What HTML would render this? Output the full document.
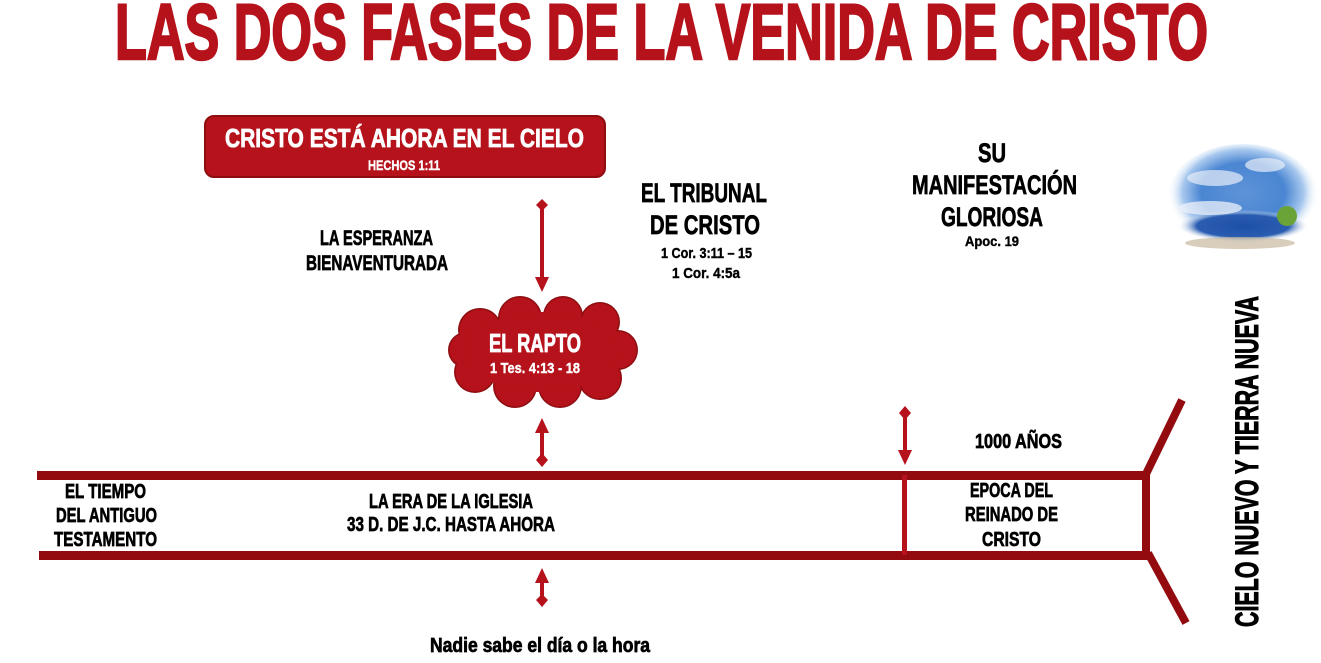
<!DOCTYPE html>
<html><head><meta charset="utf-8"><style>
html,body{margin:0;padding:0;background:#fff;}
svg{display:block;}
text{font-family:"Liberation Sans",sans-serif;font-weight:bold;}
</style></head><body>
<svg width="1321" height="663" viewBox="0 0 1321 663" xmlns="http://www.w3.org/2000/svg">
<defs>
<radialGradient id="sky" cx="50%" cy="45%" r="50%">
<stop offset="0" stop-color="#5f93d8"/>
<stop offset="0.55" stop-color="#4a86d2"/>
<stop offset="0.8" stop-color="#a8c8ee"/>
<stop offset="1" stop-color="#ffffff" stop-opacity="0"/>
</radialGradient>
<radialGradient id="sea" cx="50%" cy="50%" r="50%">
<stop offset="0" stop-color="#1d4fa8"/>
<stop offset="0.7" stop-color="#2a5db0"/>
<stop offset="1" stop-color="#ffffff" stop-opacity="0"/>
</radialGradient>
</defs>
<!-- Title -->
<text x="115" y="59" font-size="79" fill="#b5121b" stroke="#b5121b" stroke-width="2.5" textLength="1093" lengthAdjust="spacingAndGlyphs">LAS DOS FASES DE LA VENIDA DE CRISTO</text>

<!-- Red box -->
<rect x="205" y="116" width="400" height="61" rx="9" fill="#b5121b" stroke="#8e0d10" stroke-width="2"/>
<text x="225" y="147" font-size="26" fill="#fff" stroke="#fff" stroke-width="0.8" textLength="359" lengthAdjust="spacingAndGlyphs">CRISTO ESTÁ AHORA EN EL CIELO</text>
<text x="368" y="170" font-size="14" fill="#fff" stroke="#fff" stroke-width="0.4" textLength="72" lengthAdjust="spacingAndGlyphs">HECHOS 1:11</text>

<!-- arrows -->
<g fill="#b5121b" stroke="none">
<path d="M542 199 L548 205 L542 211 L536 205Z"/>
<rect x="540" y="205" width="4" height="73"/>
<path d="M535 277 L549 277 L542 292Z"/>
<path d="M535 433 L549 433 L542 418Z"/>
<rect x="540" y="432" width="4" height="26"/>
<path d="M542 453 L548 460 L542 467 L536 460Z"/>
<path d="M535 583 L549 583 L542 568Z"/>
<rect x="540" y="582" width="4" height="18"/>
<path d="M542 594 L548 600 L542 607 L536 600Z"/>
<path d="M905 406 L911 413 L905 420 L899 413Z"/>
<rect x="903" y="413" width="4" height="38"/>
<path d="M898 450 L912 450 L905 465Z"/>
</g>

<!-- Cloud -->
<g fill="#8e0d10">
<circle cx="480" cy="330" r="22"/><circle cx="520" cy="318" r="22"/><circle cx="563" cy="316" r="20"/><circle cx="600" cy="322" r="20"/>
<circle cx="618" cy="350" r="20"/><circle cx="600" cy="378" r="22"/><circle cx="560" cy="386" r="22"/><circle cx="515" cy="386" r="22"/>
<circle cx="475" cy="372" r="21"/><circle cx="466" cy="350" r="18"/><ellipse cx="542" cy="352" rx="75" ry="40"/>
</g>
<g fill="#b5121b">
<circle cx="480" cy="330" r="20.5"/><circle cx="520" cy="318" r="20.5"/><circle cx="563" cy="316" r="18.5"/><circle cx="600" cy="322" r="18.5"/>
<circle cx="618" cy="350" r="18.5"/><circle cx="600" cy="378" r="20.5"/><circle cx="560" cy="386" r="20.5"/><circle cx="515" cy="386" r="20.5"/>
<circle cx="475" cy="372" r="19.5"/><circle cx="466" cy="350" r="16.5"/><ellipse cx="542" cy="352" rx="75" ry="40"/>
</g>
<text x="489" y="352" font-size="26" fill="#fff" stroke="#fff" stroke-width="0.8" textLength="92" lengthAdjust="spacingAndGlyphs">EL RAPTO</text>
<text x="490" y="373" font-size="15" fill="#fff" stroke="#fff" stroke-width="0.4" textLength="90" lengthAdjust="spacingAndGlyphs">1 Tes. 4:13 - 18</text>

<!-- Timeline -->
<g fill="#930b0e">
<rect x="37" y="471" width="1113" height="9"/>
<rect x="39" y="551" width="1111" height="9"/>
<rect x="1142" y="471" width="8" height="89"/>
</g>
<line x1="1146" y1="474" x2="1182" y2="400" stroke="#930b0e" stroke-width="8"/>
<line x1="1148" y1="553" x2="1186" y2="623" stroke="#930b0e" stroke-width="8"/>
<rect x="902" y="475" width="5" height="80" fill="#b5121b"/>

<!-- Sky image -->
<ellipse cx="1243" cy="198" rx="76" ry="54" fill="url(#sky)"/>
<ellipse cx="1243" cy="226" rx="66" ry="16" fill="url(#sea)"/>
<ellipse cx="1215" cy="178" rx="28" ry="8" fill="#e8eef8" opacity="0.7"/>
<ellipse cx="1265" cy="165" rx="20" ry="7" fill="#e8eef8" opacity="0.7"/>
<ellipse cx="1210" cy="208" rx="32" ry="7" fill="#eef2fa" opacity="0.75"/>
<ellipse cx="1240" cy="243" rx="55" ry="6" fill="#c9b9a0" opacity="0.7"/>
<circle cx="1287" cy="216" r="10" fill="#6aa338"/>

<!-- black texts -->
<g fill="#000" stroke="#000" stroke-width="0.7">
<text x="320" y="245" font-size="21" textLength="113" lengthAdjust="spacingAndGlyphs">LA ESPERANZA</text>
<text x="306" y="270" font-size="21" textLength="142" lengthAdjust="spacingAndGlyphs">BIENAVENTURADA</text>
<text x="641" y="202" font-size="27" textLength="126" lengthAdjust="spacingAndGlyphs">EL TRIBUNAL</text>
<text x="650" y="234" font-size="27" textLength="110" lengthAdjust="spacingAndGlyphs">DE CRISTO</text>
<text x="661" y="258" font-size="15" stroke-width="0.4" textLength="91" lengthAdjust="spacingAndGlyphs">1 Cor. 3:11 – 15</text>
<text x="672" y="278" font-size="15" stroke-width="0.4" textLength="68" lengthAdjust="spacingAndGlyphs">1 Cor. 4:5a</text>
<text x="978" y="162" font-size="27" textLength="28" lengthAdjust="spacingAndGlyphs">SU</text>
<text x="912" y="194" font-size="27" textLength="165" lengthAdjust="spacingAndGlyphs">MANIFESTACIÓN</text>
<text x="941" y="226" font-size="27" textLength="102" lengthAdjust="spacingAndGlyphs">GLORIOSA</text>
<text x="965" y="246" font-size="14" stroke-width="0.4" textLength="54" lengthAdjust="spacingAndGlyphs">Apoc. 19</text>
<text x="975" y="448" font-size="20" textLength="87" lengthAdjust="spacingAndGlyphs">1000 AÑOS</text>
<text x="65" y="498" font-size="20" textLength="81" lengthAdjust="spacingAndGlyphs">EL TIEMPO</text>
<text x="56" y="522" font-size="20" textLength="101" lengthAdjust="spacingAndGlyphs">DEL ANTIGUO</text>
<text x="54" y="546" font-size="20" textLength="103" lengthAdjust="spacingAndGlyphs">TESTAMENTO</text>
<text x="369" y="508" font-size="20" textLength="164" lengthAdjust="spacingAndGlyphs">LA ERA DE LA IGLESIA</text>
<text x="347" y="531" font-size="20" textLength="208" lengthAdjust="spacingAndGlyphs">33 D. DE J.C. HASTA AHORA</text>
<text x="970" y="497" font-size="20" textLength="83" lengthAdjust="spacingAndGlyphs">EPOCA DEL</text>
<text x="965" y="521" font-size="20" textLength="93" lengthAdjust="spacingAndGlyphs">REINADO DE</text>
<text x="982" y="546" font-size="20" textLength="59" lengthAdjust="spacingAndGlyphs">CRISTO</text>
<text x="430" y="652" font-size="20" textLength="220" lengthAdjust="spacingAndGlyphs">Nadie sabe el día o la hora</text>
<text transform="translate(1258,627) rotate(-90)" x="0" y="0" font-size="32" stroke-width="1" textLength="331" lengthAdjust="spacingAndGlyphs">CIELO NUEVO Y TIERRA NUEVA</text>
</g>
</svg>
</body></html>
